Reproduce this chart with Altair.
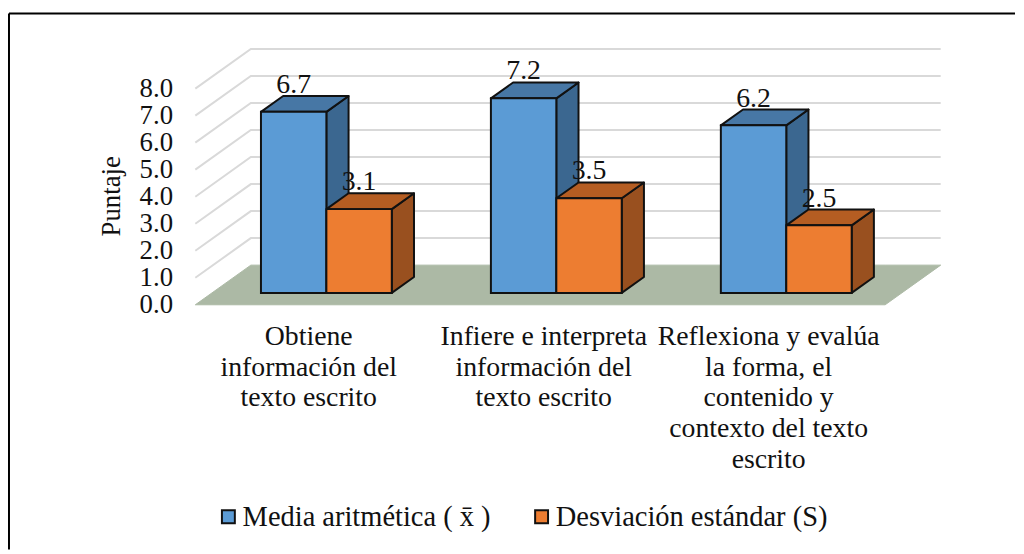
import altair as alt
import pandas as pd

categories = [
    ["Obtiene", "información del", "texto escrito"],
    ["Infiere e interpreta", "información del", "texto escrito"],
    ["Reflexiona y evalúa", "la forma, el", "contenido y", "contexto del texto", "escrito"],
]
series_names = ["Media aritmética ( x\u0304 )", "Desviación estándar (S)"]
media = [6.7, 7.2, 6.2]
desviacion = [3.1, 3.5, 2.5]
y_ticks = [0, 1, 2, 3, 4, 5, 6, 7, 8]

FONT = "Liberation Serif"
FS = 28
BLUE = ["#5B9BD5", "#3B6790", "#4777A5"]
ORANGE = ["#ED7D31", "#99501F", "#B55D22"]
colours = [BLUE, ORANGE]

W, H = 752, 259
UNIT = 232
DX = 56 / UNIT
DY = 40 / (H / 9.5)
XMAX = W / UNIT
BW = 66 / UNIT
LEFT = 0.213
Z0, Z1 = 0.3, 0.7

label_positions = [0.491, 1.513, 2.491]
expr = "split(" + "".join(
    f"datum.value == {p} ? '{'|'.join(c)}' : " for p, c in zip(label_positions, categories)
) + "'', '|')"

x_axis = alt.Axis(
    values=label_positions, labelExpr=expr, title=None, domain=False, ticks=False, grid=False,
    labelFont=FONT, labelFontSize=FS, labelColor="#111111", labelLineHeight=31,
    labelPadding=18, labelOverlap=False, labelBound=False, labelFlush=False, labelAngle=0,
    labelLimit=500,
)
y_axis = alt.Axis(
    values=y_ticks, format=".1f", title="Puntaje", domain=False, ticks=False, grid=False,
    labelFont=FONT, labelFontSize=27, labelColor="#111111", labelPadding=23, labelOverlap=False,
    titleFont=FONT, titleFontSize=27, titleFontWeight="normal", titleColor="#111111",
    titleX=-84, titleY=149, titleAngle=270, titleBaseline="middle", titleAlign="center",
)

X = alt.X("x:Q", scale=alt.Scale(domain=[0, XMAX], nice=False, zero=False), axis=x_axis)
Y = alt.Y("y:Q", scale=alt.Scale(domain=[0, 9.5], nice=False), axis=y_axis)
Y2 = alt.Y2("y2:Q")

rows_front, rows_label = [], []
faces = {0: {"side": [], "top": []}, 1: {"side": [], "top": []}}
for i, vals in enumerate(zip(media, desviacion)):
    for s, v in enumerate(vals):
        l = i + LEFT + s * BW
        r = l + BW
        b0, b1 = Z0 * DY, Z1 * DY
        t0, t1 = v + b0, v + b1
        x0, x1 = Z0 * DX, Z1 * DX
        rows_front.append(dict(x=l + x0, x2=r + x0, y=b0, y2=t0, serie=series_names[s]))
        rows_label.append(dict(x=(l + r) / 2 + x0, y=t0, v=v))
        key = f"{i}-{s}"
        faces[s]["side"] += [
            dict(k=key, x=r + x0, y=b0, y2=t0),
            dict(k=key, x=r + x1, y=b1, y2=t1),
        ]
        faces[s]["top"] += [
            dict(k=key, x=l + x0, y=t0, y2=t0),
            dict(k=key, x=l + x1, y=t0, y2=t1),
            dict(k=key, x=r + x0, y=t0, y2=t1),
            dict(k=key, x=r + x1, y=t1, y2=t1),
        ]

floor = pd.DataFrame([
    dict(x=0, y=0, y2=0),
    dict(x=DX, y=0, y2=DY),
    dict(x=3, y=0, y2=DY),
    dict(x=3 + DX, y=DY, y2=DY),
])
grid_rows = []
for t in y_ticks[1:]:
    grid_rows += [
        dict(t=t, o=0, x=0, y=t),
        dict(t=t, o=1, x=DX, y=t + DY),
        dict(t=t, o=2, x=3 + DX, y=t + DY),
    ]

floor_layer = alt.Chart(floor).mark_area(color="#ACB9A5", stroke="#ACB9A5", strokeWidth=1).encode(
    x=X, y=Y, y2=Y2,
)
grid_layer = alt.Chart(pd.DataFrame(grid_rows)).mark_line(color="#D9D9D9", strokeWidth=2).encode(
    x=X, y=Y, detail="t:N", order="o:Q"
)

layers = [floor_layer, grid_layer]
for s in (0, 1):
    layers.append(
        alt.Chart(pd.DataFrame(faces[s]["side"])).mark_area(
            color=colours[s][1], stroke="#111111", strokeWidth=2, strokeJoin="round"
        ).encode(x=X, y=Y, y2=Y2, detail="k:N")
    )
for s in (0, 1):
    layers.append(
        alt.Chart(pd.DataFrame(faces[s]["top"])).mark_area(
            color=colours[s][2], stroke="#111111", strokeWidth=2, strokeJoin="round"
        ).encode(x=X, y=Y, y2=Y2, detail="k:N")
    )

front = alt.Chart(pd.DataFrame(rows_front)).mark_rect(stroke="#111111", strokeWidth=2).encode(
    x=X,
    x2=alt.X2("x2:Q"),
    y=Y,
    y2=Y2,
    color=alt.Color(
        "serie:N",
        scale=alt.Scale(domain=series_names, range=[BLUE[0], ORANGE[0]]),
        legend=alt.Legend(
            title=None, orient="none", direction="horizontal", legendX=19, legendY=458,
            symbolType="square", symbolSize=170, symbolStrokeColor="#111111", symbolStrokeWidth=2,
            symbolOpacity=1, labelFont=FONT, labelFontSize=28.7, labelColor="#111111", labelOffset=0,
            labelLimit=400, columnPadding=37, padding=0, symbolOffset=0,
        ),
    ),
)
labels = alt.Chart(pd.DataFrame(rows_label)).mark_text(
    font=FONT, fontSize=FS, color="#111111", dy=-27, baseline="middle"
).encode(x=X, y=Y, text=alt.Text("v:Q", format=".1f"))
layers += [front, labels]

one = alt.Data(values=[{"a": 1}])
frame_left = alt.Chart(one).mark_rule(color="#000000", strokeWidth=2).encode(
    x=alt.value(-188), y=alt.value(-35), y2=alt.value(506)
)
frame_top = alt.Chart(one).mark_rule(color="#000000", strokeWidth=2).encode(
    x=alt.value(-188), x2=alt.value(827), y=alt.value(-35)
)
layers += [frame_left, frame_top]

chart = alt.layer(*layers).properties(
    width=W, height=H, padding={"left": 0, "top": 2, "right": 0, "bottom": 0}, background="white"
).configure_view(stroke=None)

chart.save("out.html", embed_options={"renderer": "svg", "actions": False})
